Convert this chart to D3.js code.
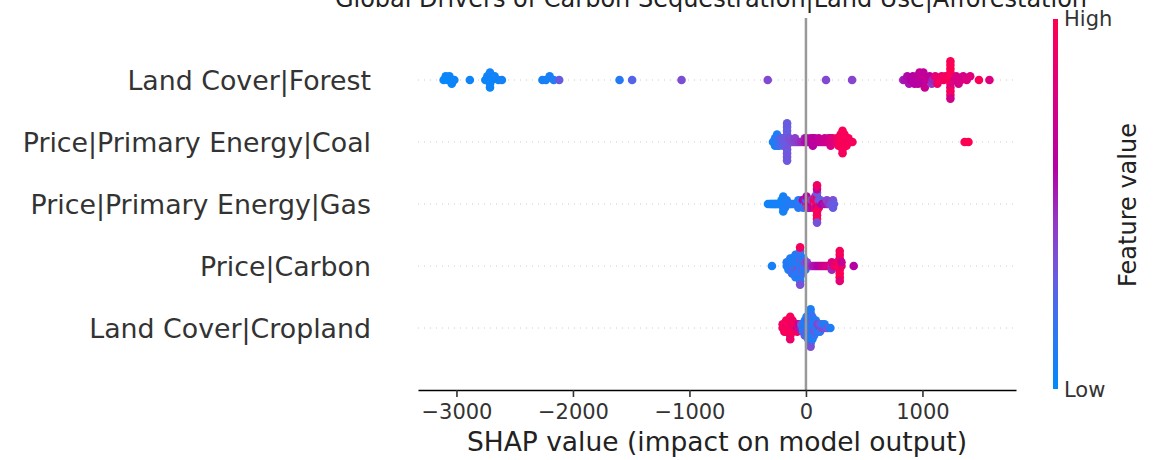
<!DOCTYPE html>
<html>
<head>
<meta charset="utf-8">
<script src="https://cdn.jsdelivr.net/npm/d3@7"></script>
<style>
  body { margin: 0; background: #fff; }
  svg text { font-family: "DejaVu Sans", sans-serif; }
</style>
</head>
<body>
<div id="chart"></div>
<script>
const title = "Global Drivers of Carbon Sequestration|Land Use|Afforestation";
// bottom to top, like the y positions in the plot
const features = ["Land Cover|Cropland", "Price|Carbon", "Price|Primary Energy|Gas", "Price|Primary Energy|Coal", "Land Cover|Forest"];
const xTicks = [-3000, -2000, -1000, 0, 1000];

// [shap value, feature value (0 = low, 1 = high)]
const forest = [
  [-3110,0.02],[-3092,0.03],[-3075,0.02],[-3060,0.04],[-3040,0.03],[-3018,0.05],
  [-2885,0.05],
  [-2752,0.04],[-2735,0.05],[-2712,0.03],[-2712,0.06],[-2712,0.04],[-2695,0.05],[-2672,0.06],[-2640,0.05],[-2610,0.07],
  [-2262,0.07],[-2232,0.08],[-2200,0.08],[-2165,0.1],[-2118,0.3],
  [-1600,0.12],[-1492,0.25],[-1068,0.36],[-328,0.38],[172,0.38],[396,0.4],
  [835,0.5],[852,0.55],[870,0.58],[886,0.55],[900,0.6],[918,0.6],[932,0.62],[948,0.6],[955,0.65],[962,0.62],
  [975,0.66],[990,0.64],[1000,0.68],[1004,0.62],[1008,0.66],[1020,0.7],[1040,0.68],[1062,0.66],[1080,0.45],[1088,0.5],
  [1110,0.85],[1128,0.92],[1150,0.95],[1165,0.9],[1182,0.95],[1198,0.93],
  [1240,0.97],[1240,1],[1240,0.95],[1240,0.98],[1240,0.8],[1240,1],[1240,0.96],[1240,0.99],[1240,0.93],[1240,0.98],[1240,0.75],
  [1272,0.8],[1290,0.78],[1310,0.75],[1332,0.8],[1350,0.76],[1380,0.8],[1410,0.82],[1485,0.97],[1575,0.8]
];

const coal = [
  [-283,0.08],
  [-265,0.1],[-265,0.12],[-265,0.08],
  [-248,0.1],[-248,0.15],[-248,0.12],[-248,0.1],
  [-230,0.15],[-230,0.2],[-230,0.18],
  [-213,0.22],[-213,0.25],
  [-196,0.28],[-196,0.3],[-196,0.28],
  [-179,0.3],[-179,0.32],
  [-162,0.3],[-162,0.32],[-162,0.28],[-162,0.3],[-162,0.34],[-162,0.3],[-162,0.31],[-162,0.29],[-162,0.33],[-162,0.3],[-162,0.32],
  [-145,0.33],[-145,0.35],[-128,0.35],[-111,0.38],[-94,0.4],[-94,0.42],[-77,0.42],[-60,0.45],[-43,0.48],[-26,0.5],
  [-9,0.55],[-9,0.52],[8,0.6],[8,0.58],[25,0.6],[42,0.62],[42,0.6],
  [59,0.62],[59,0.65],[59,0.6],[76,0.64],[76,0.62],[93,0.65],[110,0.66],[110,0.68],[127,0.68],[144,0.7],
  [161,0.7],[161,0.72],[178,0.72],[195,0.74],[195,0.75],[212,0.76],[212,0.75],[212,0.78],[229,0.78],[229,0.8],
  [246,0.82],[263,0.85],[263,0.88],[280,0.9],[280,0.92],[280,0.95],
  [297,0.95],[297,0.97],[297,0.93],[297,0.96],
  [314,0.98],[314,0.97],[314,1],[314,0.96],[314,0.99],[314,0.97],[314,0.95],
  [331,0.96],[331,0.98],[331,0.95],[331,0.97],
  [348,0.97],[348,0.94],[348,0.98],[365,0.95],[365,0.97],[382,0.96],[399,0.95],
  [1362,0.98],[1395,1]
];

const gas = [
  [-326,0.05],
  [-310,0.05],[-300,0.08],[-290,0.06],[-280,0.05],[-270,0.07],[-262,0.06],[-255,0.08],[-245,0.06],[-235,0.08],[-225,0.07],
  [-210,0.08],[-210,0.06],
  [-195,0.08],[-195,0.05],[-195,0.1],[-195,0.07],[-195,0.06],
  [-180,0.1],[-180,0.08],[-180,0.1],[-165,0.08],[-165,0.1],
  [-150,0.1],[-140,0.12],[-130,0.1],[-118,0.12],[-105,0.12],[-90,0.1],[-78,0.12],
  [-65,0.15],[-65,0.1],[-65,0.12],[-50,0.15],[-40,0.12],[-40,0.2],
  [-25,0.1],[-25,0.6],[-25,0.15],[-10,0.2],[-10,0.55],
  [5,0.9],[5,0.15],[5,0.3],[5,0.6],[20,0.7],[20,0.5],[20,0.85],
  [35,0.6],[35,0.95],[35,0.55],[50,0.65],[50,0.3],
  [65,0.9],[65,0.95],[65,0.7],[80,0.4],[80,0.9],[80,0.95],[80,0.5],
  [95,0.95],[95,1],[95,0.6],[95,0.9],[95,0.98],[95,0.3],[95,0.95],[95,0.7],[95,1],[95,0.92],[95,0.35],
  [110,0.9],[110,0.35],[110,0.95],[125,0.7],[125,0.3],[140,0.6],
  [160,0.55],[180,0.55],[180,0.4],[195,0.45],[215,0.35],
  [232,0.3],[232,0.35],[232,0.3],[240,0.3]
];

const carbon = [
  [-292,0.08],
  [-165,0.1],[-165,0.12],
  [-150,0.1],[-150,0.12],[-150,0.1],
  [-135,0.1],[-135,0.15],[-135,0.1],[-135,0.12],
  [-120,0.12],[-120,0.1],[-120,0.15],[-120,0.1],[-120,0.2],
  [-105,0.1],[-105,0.12],[-105,0.3],[-105,0.1],[-105,0.15],
  [-90,0.1],[-90,0.15],[-90,0.12],[-90,0.1],[-90,0.2],[-90,0.12],[-90,0.1],
  [-75,0.12],[-75,0.1],[-75,0.35],[-75,0.1],[-75,0.15],[-75,0.12],
  [-50,0.1],[-50,0.15],[-50,0.12],[-50,0.3],[-50,0.1],[-50,0.1],[-50,0.12],[-50,0.2],[-50,0.1],[-50,0.95],[-50,0.35],
  [-35,0.12],[-35,0.1],[-35,0.3],[-35,0.15],[-35,0.2],
  [-20,0.1],[-20,0.3],[-20,0.15],[-20,0.12],
  [-5,0.2],[-5,0.35],[-5,0.15],[8,0.25],[8,0.4],
  [25,0.4],[40,0.45],[55,0.5],[70,0.55],[85,0.55],[100,0.6],[115,0.62],[130,0.65],[145,0.7],
  [160,0.72],[175,0.75],[190,0.8],[205,0.78],
  [222,0.45],[222,0.8],[222,0.5],
  [240,0.85],[255,0.9],[270,0.95],[270,0.9],
  [290,0.98],[290,1],[290,0.95],[290,0.9],[290,0.97],[290,0.92],[290,1],[290,0.96],[290,0.85],
  [305,0.9],[305,0.7],[410,0.6]
];

const cropland = [
  [-200,0.95],[-200,0.9],
  [-185,0.95],[-185,1],[-185,0.9],
  [-170,0.95],[-170,0.9],[-170,1],[-170,0.95],
  [-155,0.92],[-155,0.95],[-155,0.98],
  [-135,1],[-135,0.95],[-135,0.9],[-135,0.97],[-135,0.93],[-135,0.98],[-135,0.9],
  [-115,0.95],[-115,0.9],[-115,0.98],[-115,0.92],
  [-95,0.9],[-95,0.95],[-75,0.6],[-75,0.85],[-75,0.9],[-55,0.55],[-55,0.7],[-40,0.5],[-40,0.3],
  [-25,0.15],[-25,0.2],[-25,0.1],
  [-10,0.1],[-10,0.12],[-10,0.15],[-10,0.1],[-10,0.35],
  [5,0.1],[5,0.12],[5,0.3],[5,0.1],[5,0.15],[5,0.1],
  [20,0.1],[20,0.15],[20,0.1],[20,0.4],[20,0.12],[20,0.1],[20,0.2],
  [40,0.1],[40,0.12],[40,0.3],[40,0.1],[40,0.15],[40,0.1],[40,0.12],[40,0.1],[40,0.2],[40,0.1],[40,0.35],
  [55,0.1],[55,0.15],[55,0.12],[55,0.3],[55,0.1],[55,0.2],[55,0.1],
  [70,0.1],[70,0.12],[70,0.35],[70,0.1],[70,0.15],
  [85,0.15],[85,0.1],[85,0.3],[85,0.12],
  [100,0.12],[100,0.4],[100,0.1],
  [120,0.45],[120,0.3],[120,0.15],[140,0.4],[140,0.15],[160,0.35],[160,0.1],[185,0.3],[210,0.1]
];

const shapRows = [cropland, carbon, gas, coal, forest];

const width = 1158;
const height = 460;
const rowHeight = 0.4;

const svg = d3.select("#chart")
  .append("svg")
  .attr("width", width)
  .attr("height", height);

const x = d3.scaleLinear()
  .domain([-3330, 1803])
  .range([418, 1016]);

const y = d3.scaleLinear()
  .domain([-1, features.length])
  .range([390, 18]);

// blue -> violet -> magenta -> red
const color = d3.scaleLinear()
  .domain([0, 0.2, 0.33, 0.46, 0.6, 0.8, 1])
  .range(["#008bfb", "#3d6ff0", "#7456dc", "#9535c4", "#b400a4", "#dc0080", "#ff0051"])
  .clamp(true);

// same stacking as shap's summary plot: 100 bins, alternate up/down
function swarm(rows) {
  const nbins = 100;
  const lo = d3.min(rows, d => d[0]);
  const hi = d3.max(rows, d => d[0]);
  const quant = rows.map(d => Math.round(nbins * (d[0] - lo) / (hi - lo + 1e-8)));
  const order = d3.range(rows.length).sort((a, b) => quant[a] - quant[b] || a - b);
  const ys = new Array(rows.length).fill(0);
  let layer = 0;
  let lastBin = -1;
  order.forEach(i => {
    if (quant[i] !== lastBin) layer = 0;
    ys[i] = Math.ceil(layer / 2) * ((layer % 2) * 2 - 1);
    layer++;
    lastBin = quant[i];
  });
  const k = 0.9 * rowHeight / d3.max(ys, v => v + 1);
  return ys.map(v => v * k);
}

// dotted row guides
svg.append("g")
  .selectAll("line")
  .data(features)
  .enter()
  .append("line")
  .attr("x1", x.range()[0])
  .attr("x2", x.range()[1])
  .attr("y1", (d, i) => y(i))
  .attr("y2", (d, i) => y(i))
  .attr("stroke", "#cccccc")
  .attr("stroke-width", 1)
  .attr("stroke-dasharray", "1,5");

// points
shapRows.forEach((rows, i) => {
  const offs = swarm(rows);
  svg.append("g")
    .selectAll("circle")
    .data(rows)
    .enter()
    .append("circle")
    .attr("cx", d => x(d[0]))
    .attr("cy", (d, j) => y(i + offs[j]))
    .attr("r", 4.3)
    .attr("fill", d => color(d[1]));
});

// zero line
svg.append("line")
  .attr("x1", x(0))
  .attr("x2", x(0))
  .attr("y1", y.range()[1])
  .attr("y2", y.range()[0])
  .attr("stroke", "#999999")
  .attr("stroke-width", 2.5);

// x axis
const xAxis = svg.append("g")
  .attr("transform", `translate(0,${y.range()[0]})`)
  .call(d3.axisBottom(x)
    .tickValues(xTicks)
    .tickFormat(d3.format("d"))
    .tickSize(7)
    .tickSizeOuter(0)
    .tickPadding(7));

xAxis.select(".domain").attr("stroke", "#000").attr("stroke-width", 1.6);
xAxis.selectAll(".tick line").attr("stroke", "#333333").attr("stroke-width", 1.6);
xAxis.selectAll(".tick text")
  .attr("fill", "#333333")
  .attr("font-size", "21px")
  .attr("font-family", "DejaVu Sans");

svg.append("text")
  .attr("x", (x.range()[0] + x.range()[1]) / 2)
  .attr("y", 451)
  .attr("text-anchor", "middle")
  .attr("fill", "#222")
  .attr("font-size", "26.5px")
  .text("SHAP value (impact on model output)");

// feature names
svg.append("g")
  .selectAll("text")
  .data(features)
  .enter()
  .append("text")
  .attr("x", 371)
  .attr("y", (d, i) => y(i) + 9.5)
  .attr("text-anchor", "end")
  .attr("fill", "#333333")
  .attr("font-size", "26.8px")
  .text(d => d);

// title (clipped at the top like the original)
svg.append("text")
  .attr("x", 711)
  .attr("y", 7)
  .attr("text-anchor", "middle")
  .attr("fill", "#222")
  .attr("font-size", "24px")
  .text(title);

// colour bar
const grad = svg.append("defs")
  .append("linearGradient")
  .attr("id", "cbar")
  .attr("x1", 0).attr("y1", 1)
  .attr("x2", 0).attr("y2", 0);

grad.selectAll("stop")
  .data(d3.range(0, 1.0001, 0.05))
  .enter()
  .append("stop")
  .attr("offset", d => d)
  .attr("stop-color", d => color(d));

svg.append("rect")
  .attr("x", 1053)
  .attr("y", 19)
  .attr("width", 5)
  .attr("height", 370)
  .attr("fill", "url(#cbar)");

svg.append("text")
  .attr("x", 1064)
  .attr("y", 26)
  .attr("fill", "#333333")
  .attr("font-size", "21px")
  .text("High");

svg.append("text")
  .attr("x", 1064)
  .attr("y", 397)
  .attr("fill", "#333333")
  .attr("font-size", "21px")
  .text("Low");

svg.append("text")
  .attr("transform", "translate(1136,205) rotate(-90)")
  .attr("text-anchor", "middle")
  .attr("fill", "#222")
  .attr("font-size", "24px")
  .text("Feature value");
</script>
</body>
</html>
